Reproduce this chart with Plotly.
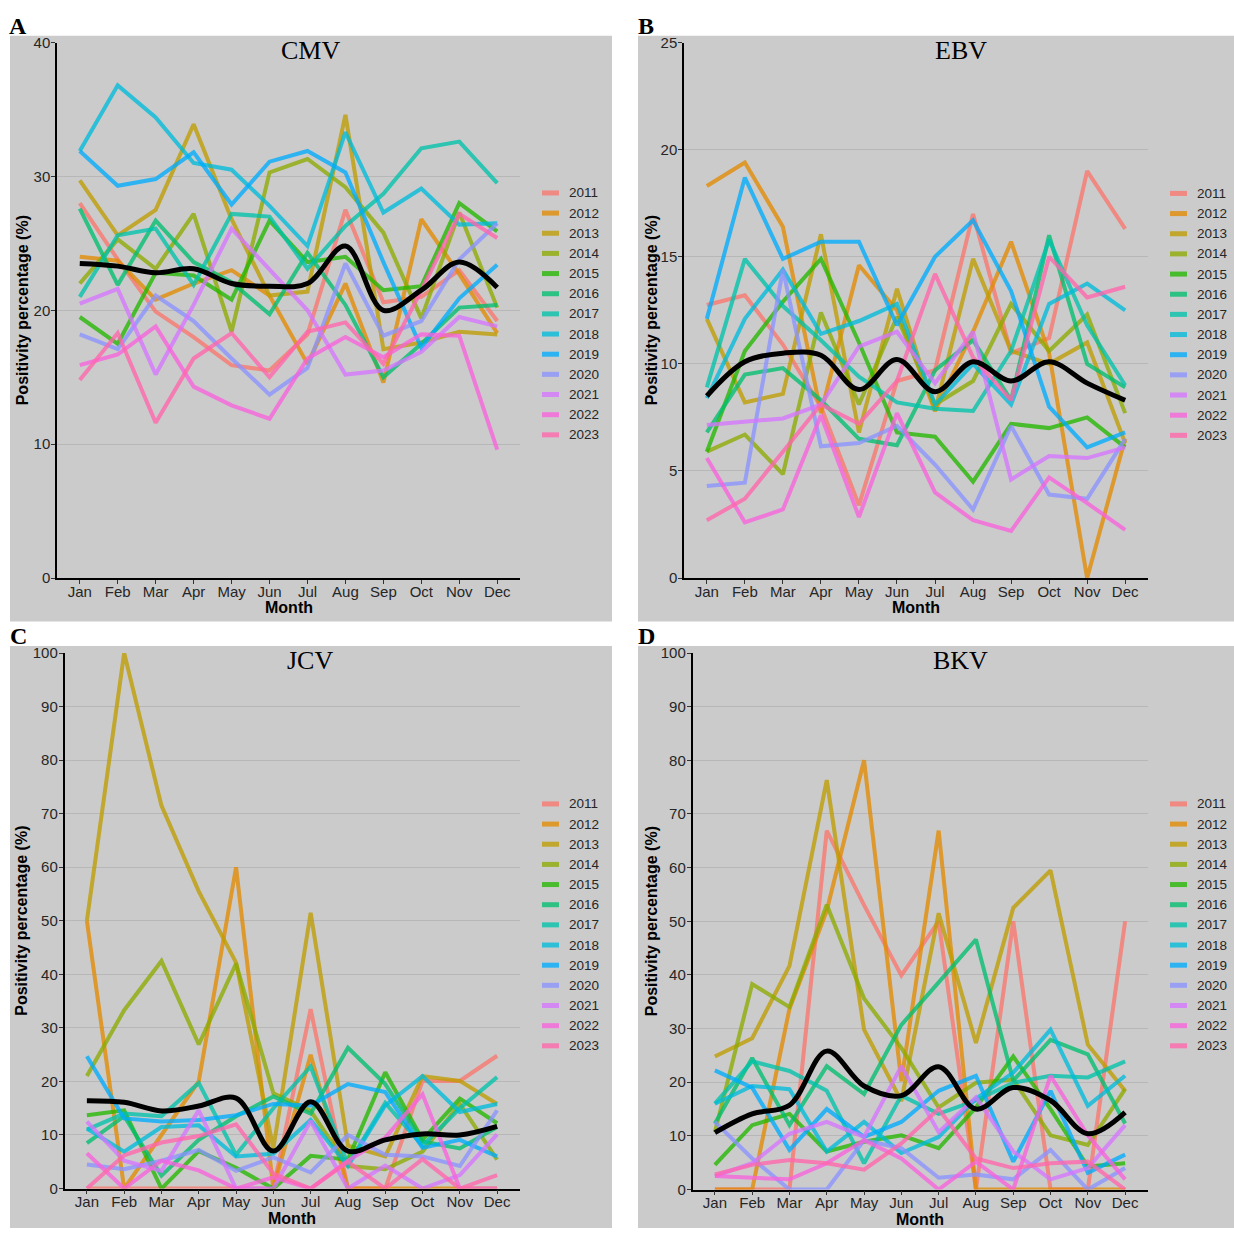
import plotly.graph_objects as go

# ---------------------------------------------------------------------------
# Monthly positivity percentage (%) by year, for four viruses
# ---------------------------------------------------------------------------
MONTHS = ["Jan", "Feb", "Mar", "Apr", "May", "Jun",
          "Jul", "Aug", "Sep", "Oct", "Nov", "Dec"]
YEARS = [2011, 2012, 2013, 2014, 2015, 2016, 2017,
         2018, 2019, 2020, 2021, 2022, 2023]
YEAR_COLORS = ["#F8766D", "#E18A00", "#BE9C00", "#8CAB00", "#24B700",
               "#00BE70", "#00C1AB", "#00BBDA", "#00ACFC", "#8B93FF",
               "#D575FE", "#F962DD", "#FF65AC"]

cmv = {
    2011: [28.0, 23.8, 19.9, 18.0, 15.9, 15.5, 18.2, 27.5, 20.6, 21.0, 23.0, 19.2],
    2012: [24.0, 23.7, 20.8, 22.0, 23.0, 21.1, 16.0, 22.0, 14.6, 26.8, 22.7, 18.3],
    2013: [29.7, 25.6, 27.5, 33.9, 26.8, 21.1, 21.4, 34.6, 17.1, 17.6, 18.4, 18.2],
    2014: [22.0, 25.3, 23.1, 27.2, 18.4, 30.3, 31.3, 29.2, 25.8, 19.4, 27.3, 20.2],
    2015: [19.5, 17.5, 22.8, 22.6, 20.8, 26.7, 23.6, 24.0, 21.5, 21.8, 28.0, 25.9],
    2016: [27.6, 21.9, 26.7, 23.6, 22.1, 19.7, 24.3, 20.4, 15.0, 17.5, 20.2, 20.4],
    2017: [21.0, 25.6, 26.1, 21.9, 27.2, 27.0, 23.1, 26.3, 28.7, 32.1, 32.6, 29.5],
    2018: [31.9, 36.8, 34.4, 31.0, 30.5, 27.8, 24.8, 33.3, 27.3, 29.1, 26.4, 26.5],
    2019: [31.9, 29.3, 29.8, 31.8, 27.9, 31.1, 31.9, 30.3, 23.6, 17.2, 20.9, 23.4],
    2020: [18.2, 17.1, 21.1, 19.2, 16.4, 13.7, 15.7, 23.5, 18.1, 19.2, 23.8, 26.5],
    2021: [20.5, 21.6, 15.2, 20.4, 26.1, 23.1, 20.0, 15.2, 15.5, 16.9, 19.5, 18.8],
    2022: [15.9, 16.7, 18.8, 14.3, 12.9, 11.9, 16.4, 18.0, 16.5, 18.2, 18.1, 9.6],
    2023: [14.8, 18.3, 11.6, 16.4, 18.3, 15.0, 18.4, 19.1, 16.0, 21.5, 27.2, 25.4],
}
cmv_mean = [23.5, 23.3, 22.8, 23.1, 22.0, 21.8, 22.0, 24.8, 20.0, 21.5, 23.6, 21.7]

ebv = {
    2011: [12.75, 13.2, 10.9, 8.0, 3.4, 9.2, 9.7, 17.0, 10.5, 11.2, 19.0, 16.3],
    2012: [18.3, 19.4, 16.4, 7.7, 14.6, 12.5, 7.8, 11.5, 15.7, 10.5, 0.0, 6.5],
    2013: [12.1, 8.2, 8.6, 16.05, 6.8, 13.5, 7.8, 14.9, 10.6, 10.0, 11.0, 6.3],
    2014: [5.9, 6.7, 4.85, 12.4, 8.1, 12.2, 8.1, 9.2, 12.8, 10.6, 12.3, 7.7],
    2015: [5.9, 10.6, 12.9, 14.9, 11.0, 6.8, 6.6, 4.5, 7.2, 7.0, 7.5, 6.1],
    2016: [6.8, 9.5, 9.8, 8.3, 6.5, 6.2, 9.7, 11.1, 8.3, 16.0, 10.0, 8.9],
    2017: [8.9, 14.9, 12.7, 11.1, 9.4, 8.2, 7.9, 7.8, 10.6, 15.8, 11.8, 9.0],
    2018: [8.4, 12.1, 14.4, 11.4, 12.0, 12.8, 8.1, 10.0, 8.1, 12.8, 13.75, 12.5],
    2019: [12.1, 18.7, 14.9, 15.7, 15.7, 11.8, 15.0, 16.7, 13.4, 8.0, 6.1, 6.8],
    2020: [4.3, 4.45, 14.4, 6.15, 6.3, 7.1, 5.3, 3.2, 7.1, 3.9, 3.7, 6.5],
    2021: [7.15, 7.3, 7.45, 8.1, 10.8, 11.5, 9.1, 11.5, 4.6, 5.7, 5.6, 6.1],
    2022: [5.6, 2.6, 3.2, 7.6, 2.85, 7.7, 4.0, 2.7, 2.2, 4.7, 3.5, 2.25],
    2023: [2.7, 3.7, 5.9, 8.1, 7.2, 9.2, 14.2, 10.3, 8.3, 15.0, 13.1, 13.6],
}
ebv_mean = [8.5, 10.1, 10.5, 10.4, 8.8, 10.2, 8.7, 10.1, 9.2, 10.1, 9.1, 8.3]

jcv = {
    2011: [0.0, 0.0, 0.0, 0.0, 0.0, 0.0, 33.5, 0.0, 0.0, 20.1, 20.1, 24.8],
    2012: [50.0, 0.0, 10.0, 20.0, 60.0, 0.0, 25.0, 0.0, 0.0, 0.0, 0.0, 0.0],
    2013: [50.0, 100.0, 71.5, 55.5, 42.2, 7.5, 51.5, 8.0, 6.0, 21.0, 20.1, 15.8],
    2014: [21.0, 33.3, 42.5, 26.9, 42.0, 17.8, 14.5, 4.2, 3.6, 6.9, 15.8, 5.4],
    2015: [13.7, 14.6, 0.0, 7.0, 3.9, 0.0, 6.1, 5.4, 21.7, 9.1, 16.8, 12.2],
    2016: [8.5, 13.5, 2.4, 9.1, 13.5, 17.2, 14.0, 26.3, 19.5, 8.8, 7.5, 11.5],
    2017: [11.0, 14.0, 13.5, 19.7, 6.3, 15.0, 22.8, 4.5, 16.0, 8.0, 15.0, 20.8],
    2018: [11.2, 6.9, 11.5, 11.8, 6.0, 6.5, 12.8, 4.2, 15.5, 21.0, 14.3, 15.8],
    2019: [24.7, 13.1, 12.5, 12.8, 13.7, 15.8, 15.5, 19.5, 18.0, 7.6, 9.1, 6.0],
    2020: [4.5, 3.6, 5.2, 7.2, 3.3, 5.8, 3.0, 10.0, 6.3, 6.0, 4.2, 14.6],
    2021: [12.5, 5.2, 3.3, 14.6, 0.0, 0.0, 12.6, 0.0, 4.3, 0.0, 2.5, 10.1],
    2022: [6.6, 0.0, 5.2, 3.4, 0.0, 2.1, 0.0, 5.2, 9.5, 17.6, 0.0, 0.0],
    2023: [0.0, 6.2, 8.6, 9.8, 12.0, 2.8, 0.0, 5.0, 0.0, 5.5, 0.0, 2.5],
}
jcv_mean = [16.4, 16.1, 14.5, 15.4, 16.9, 7.0, 16.2, 7.0, 9.1, 10.2, 10.0, 11.6]

bkv = {
    2011: [0.0, 0.0, 0.0, 66.9, 53.0, 39.9, 50.0, 0.0, 50.0, 0.0, 0.0, 50.0],
    2012: [0.0, 0.0, 33.7, 52.0, 80.0, 20.2, 66.9, 0.0, 0.0, 0.0, 0.0, 0.0],
    2013: [24.8, 28.2, 41.7, 76.3, 29.8, 16.5, 51.5, 27.3, 52.5, 59.5, 27.0, 18.4],
    2014: [10.7, 38.3, 34.0, 53.1, 35.6, 26.4, 15.3, 19.9, 20.5, 10.1, 8.3, 18.7],
    2015: [4.6, 12.0, 14.1, 7.1, 8.9, 10.1, 7.7, 15.3, 24.8, 15.0, 4.3, 4.9],
    2016: [12.3, 24.5, 12.0, 23.0, 17.8, 30.7, 38.6, 46.6, 20.3, 27.9, 25.2, 12.3],
    2017: [16.0, 23.9, 22.1, 18.4, 4.9, 17.5, 14.1, 16.6, 19.9, 21.2, 20.9, 23.9],
    2018: [16.0, 19.3, 18.7, 7.1, 12.6, 6.8, 9.8, 16.9, 21.8, 29.8, 15.6, 21.2],
    2019: [22.2, 19.0, 7.4, 15.0, 9.8, 12.6, 18.4, 21.2, 5.2, 18.4, 3.1, 6.5],
    2020: [12.6, 5.8, 0.0, 0.0, 9.2, 7.7, 2.2, 2.8, 1.9, 7.4, 0.0, 4.0],
    2021: [2.5, 4.9, 10.4, 12.6, 9.8, 23.0, 10.7, 17.2, 7.1, 1.9, 4.0, 12.0],
    2022: [2.5, 2.2, 1.9, 4.9, 9.2, 5.8, 0.0, 5.2, 0.0, 21.2, 10.1, 1.9],
    2023: [2.8, 4.6, 5.5, 4.9, 3.7, 8.6, 15.0, 5.8, 4.0, 4.9, 5.2, 0.0],
}
bkv_mean = [10.6, 14.1, 15.7, 25.8, 19.3, 17.5, 22.9, 15.0, 19.0, 16.6, 10.4, 14.4]

# ---------------------------------------------------------------------------
# Page geometry (pixels) and styling
# ---------------------------------------------------------------------------
W, H = 1234, 1236
PANEL_BG = "#cbcbcb"
GRID = "#b7b7b7"
INK = "#262626"
SANS = "Liberation Sans, Arial, sans-serif"
SERIF = "Liberation Serif, Times New Roman, serif"


def px_x(px):
    return px / W


def px_y(py):
    return 1 - py / H


def rgba(hex_color, alpha):
    h = hex_color.lstrip("#")
    r, g, b = int(h[0:2], 16), int(h[2:4], 16), int(h[4:6], 16)
    return f"rgba({r},{g},{b},{alpha})"


panels = [
    dict(virus="CMV", letter="A", data=cmv, mean=cmv_mean, ymax=40, dtick=10,
         plot=(57, 520, 34, 577), bg=(10, 612, 27, 621), title_x=310, letter_y=17,
         key_x=(542, 559), text_x=567, legend_y=186.5, ytitle_x=22),
    dict(virus="EBV", letter="B", data=ebv, mean=ebv_mean, ymax=25, dtick=5,
         plot=(684, 1148, 34, 577), bg=(638, 1234, 27, 621), title_x=961, letter_y=17,
         key_x=(1170, 1187), text_x=1195, legend_y=187, ytitle_x=651),
    dict(virus="JCV", letter="C", data=jcv, mean=jcv_mean, ymax=100, dtick=10,
         plot=(64.5, 519.5, 653, 1196), bg=(10, 612, 646, 1236), title_x=310, letter_y=636,
         key_x=(542, 559), text_x=567, legend_y=806, ytitle_x=22),
    dict(virus="BKV", letter="D", data=bkv, mean=bkv_mean, ymax=100, dtick=10,
         plot=(692.5, 1147.5, 653, 1197), bg=(638, 1234, 646, 1236), title_x=960, letter_y=636,
         key_x=(1170, 1187), text_x=1195, legend_y=806, ytitle_x=651),
]

LEGEND_STEP = 20.44

fig = go.Figure()
shapes = []
annotations = []
layout_axes = {}

for i, p in enumerate(panels, start=1):
    xa = "x" if i == 1 else f"x{i}"
    ya = "y" if i == 1 else f"y{i}"
    x0, x1, ytop, ybot = p["plot"]

    # yearly lines
    for year, color in zip(YEARS, YEAR_COLORS):
        fig.add_trace(go.Scatter(
            x=MONTHS, y=p["data"][year], mode="lines", name=str(year),
            line=dict(color=rgba(color, 0.78), width=4),
            xaxis=xa, yaxis=ya, showlegend=False,
        ))
    # smoothed overall trend
    fig.add_trace(go.Scatter(
        x=MONTHS, y=p["mean"], mode="lines", name="Mean",
        line=dict(color="black", width=5, shape="spline", smoothing=1.0),
        xaxis=xa, yaxis=ya, showlegend=False,
    ))

    layout_axes["xaxis" if i == 1 else f"xaxis{i}"] = dict(
        domain=[px_x(x0), px_x(x1)], anchor=ya,
        type="category", categoryorder="array", categoryarray=MONTHS,
        range=[-0.6, 11.6], showgrid=False, zeroline=False,
        showline=True, linecolor="black", linewidth=1.5,
        ticks="outside", ticklen=4, tickwidth=1, tickcolor="#333333",
        ticklabelstandoff=-5,
        tickfont=dict(family=SANS, size=15, color=INK), fixedrange=True,
    )
    layout_axes["yaxis" if i == 1 else f"yaxis{i}"] = dict(
        domain=[px_y(ybot), px_y(ytop)], anchor=xa,
        range=[0, p["ymax"]], dtick=p["dtick"], tick0=0,
        showgrid=True, gridcolor=GRID, gridwidth=1, zeroline=False,
        showline=True, linecolor="black", linewidth=1.5,
        ticks="outside", ticklen=4, tickwidth=1, tickcolor="#333333",
        ticklabelstandoff=-2,
        tickfont=dict(family=SANS, size=15, color=INK), fixedrange=True,
    )

    # grey panel background
    bx0, bx1, by0, by1 = p["bg"]
    shapes.append(dict(type="rect", xref="paper", yref="paper",
                       x0=px_x(bx0), x1=px_x(bx1), y0=px_y(by1), y1=px_y(by0),
                       fillcolor=PANEL_BG, line=dict(width=0), layer="below"))

    # panel letter and virus title
    annotations.append(dict(text=f"<b>{p['letter']}</b>", x=px_x(bx0 + 8), y=px_y(p["letter_y"]),
                            xref="paper", yref="paper", showarrow=False,
                            xanchor="center", yanchor="middle",
                            font=dict(family=SERIF, size=24, color="black")))
    annotations.append(dict(text=p["virus"], x=px_x(p["title_x"]), y=px_y(ytop + 8),
                            xref="paper", yref="paper", showarrow=False,
                            xanchor="center", yanchor="middle",
                            font=dict(family=SERIF, size=26, color="black")))

    # axis titles
    annotations.append(dict(text="<b>Month</b>", x=px_x((x0 + x1) / 2), y=px_y(ybot + 30),
                            xref="paper", yref="paper", showarrow=False,
                            xanchor="center", yanchor="middle",
                            font=dict(family=SANS, size=16, color="black")))
    annotations.append(dict(text="<b>Positivity percentage (%)</b>",
                            x=px_x(p["ytitle_x"]), y=px_y((ytop + ybot) / 2),
                            xref="paper", yref="paper", showarrow=False, textangle=-90,
                            xanchor="center", yanchor="middle",
                            font=dict(family=SANS, size=16, color="black")))

    # year legend
    kx0, kx1 = p["key_x"]
    for k, (year, color) in enumerate(zip(YEARS, YEAR_COLORS)):
        yy = p["legend_y"] + k * LEGEND_STEP
        shapes.append(dict(type="line", xref="paper", yref="paper",
                           x0=px_x(kx0), x1=px_x(kx1), y0=px_y(yy), y1=px_y(yy),
                           line=dict(color=rgba(color, 0.78), width=5)))
        annotations.append(dict(text=str(year), x=px_x(p["text_x"]), y=px_y(yy),
                                xref="paper", yref="paper", showarrow=False,
                                xanchor="left", yanchor="middle",
                                font=dict(family=SANS, size=13.5, color=INK)))

fig.update_layout(
    width=W, height=H, margin=dict(l=0, r=0, t=0, b=0),
    paper_bgcolor="white", plot_bgcolor="rgba(0,0,0,0)",
    shapes=shapes, annotations=annotations, showlegend=False,
    hovermode="closest",
    **layout_axes,
)

fig.write_html("out.html")
